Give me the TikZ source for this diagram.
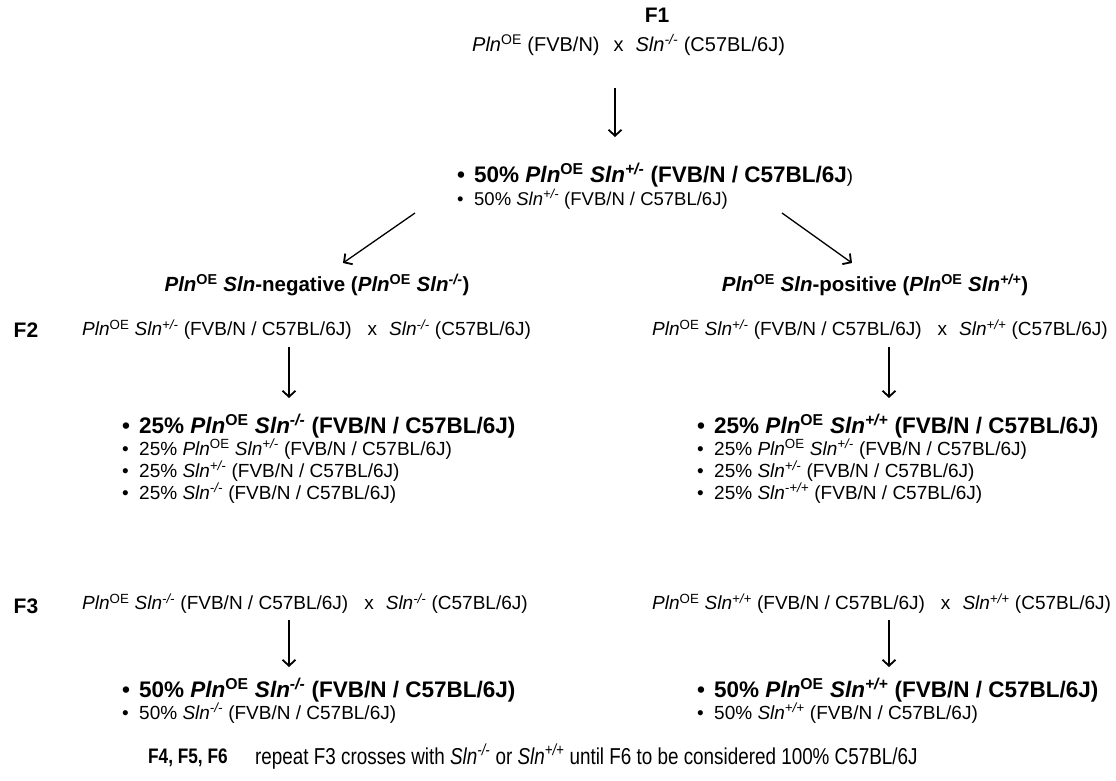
\documentclass[tikz,border=0pt]{standalone}
\usepackage{fontspec}
\setmainfont{Liberation Sans}
\usetikzlibrary{
  arrows.meta, % for the barbed arrow tips
  positioning % for relative placement of the headings
}
\newcommand{\pln}{\textit{Pln}\textsuperscript{OE}}
\newcommand{\sln}[1]{\textit{Sln\textsuperscript{#1}}}
\newcommand{\blt}{\makebox[17pt][l]{\textbullet}}
\newcommand{\topline}[1]{{\bfseries\fontsize{22.5}{22}\selectfont #1}}
\newcommand{\mate}{\hspace{16pt}x\hspace{12pt}}
\tikzset{
  gen/.style={ % generation labels F1, F2, ...
    font=\bfseries\fontsize{21}{22}\selectfont,
    inner sep=0pt,
  },
  cross/.style={ % a mating line
    font=\fontsize{19}{22}\selectfont,
    anchor=west, inner sep=0pt,
  },
  head/.style={ % the two branch headings
    font=\bfseries\fontsize{20.5}{22}\selectfont,
    inner sep=0pt,
  },
  litter/.style={ % offspring lists
    font=\fontsize{19}{22}\selectfont,
    anchor=north west, align=left, inner sep=0pt,
  },
  conn/.style={ % the arrows
    -{Straight Barb[length=6pt,width=13pt,line width=1.8pt]},
    line width=1.3pt,
  },
}

\begin{document}
\begin{tikzpicture}[x=1pt,y=-1pt]
  \useasboundingbox (0,0) rectangle (1116,780);
  % F1
  \node[gen] (f1) at (657,15) {F1};
  \node[cross, font=\fontsize{20}{22}\selectfont] (crossA) at (472,45) {\pln{} (FVB/N)\hspace{14pt}x\hspace{12pt}\sln{-/-} (C57BL/6J)};
  \coordinate (a1s) at (615,88);
  \coordinate (a1e) at (615,137);
  \draw[conn] (a1s) -- (a1e);
  \node[litter, font=\fontsize{18.5}{23}\selectfont] (mixA) at (457,163) {\topline{\blt 50\% \pln{} \sln{+/-} (FVB/N / C57BL/6J}){}\\
    \blt 50\% \sln{+/-} (FVB/N / C57BL/6J)};
  % split into the two lines
  \coordinate (dls) at (415,213);
  \coordinate (dle) at (343,263);
  \coordinate (drs) at (782,213);
  \coordinate (dre) at (852,263);
  \draw[conn] (dls) -- (dle);
  \draw[conn] (drs) -- (dre);
  \node[head] (headNeg) at (317,285) {\textit{Pln}\textsuperscript{OE} \textit{Sln}-negative (\textit{Pln}\textsuperscript{OE} \textit{Sln\textsuperscript{-/-}})};
  \node[head] (headPos) at (875,285) {\textit{Pln}\textsuperscript{OE} \textit{Sln}-positive (\textit{Pln}\textsuperscript{OE} \textit{Sln\textsuperscript{+/+}})};
  % F2
  \node[gen] (f2) at (26,330) {F2};
  \node[cross] (crossNeg2) at (82,330) {\pln{} \sln{+/-} (FVB/N / C57BL/6J)\mate\sln{-/-} (C57BL/6J)};
  \node[cross] (crossPos2) at (652,330) {\pln{} \sln{+/-} (FVB/N / C57BL/6J)\mate\sln{+/+} (C57BL/6J)};
  \coordinate (n2s) at (289,347);
  \coordinate (n2e) at (289,398);
  \coordinate (p2s) at (889,347);
  \coordinate (p2e) at (889,398);
  \draw[conn] (n2s) -- (n2e);
  \draw[conn] (p2s) -- (p2e);
  \node[litter] (litNeg2) at (122,414) {\topline{\blt 25\% \pln{} \sln{-/-} (FVB/N / C57BL/6J)}\\
    \blt 25\% \pln{} \sln{+/-} (FVB/N / C57BL/6J)\\
    \blt 25\% \sln{+/-} (FVB/N / C57BL/6J)\\
    \blt 25\% \sln{-/-} (FVB/N / C57BL/6J)};
  \node[litter] (litPos2) at (697,414) {\topline{\blt 25\% \pln{} \sln{+/+} (FVB/N / C57BL/6J)}\\
    \blt 25\% \pln{} \sln{+/-} (FVB/N / C57BL/6J)\\
    \blt 25\% \sln{+/-} (FVB/N / C57BL/6J)\\
    \blt 25\% \sln{-+/+} (FVB/N / C57BL/6J)};
  % F3
  \node[gen] (f3) at (26,606) {F3};
  \node[cross] (crossNeg3) at (82,604) {\pln{} \sln{-/-} (FVB/N / C57BL/6J)\mate\sln{-/-} (C57BL/6J)};
  \node[cross] (crossPos3) at (652,604) {\pln{} \sln{+/+} (FVB/N / C57BL/6J)\mate\sln{+/+} (C57BL/6J)};
  \coordinate (n3s) at (289,620);
  \coordinate (n3e) at (289,667);
  \coordinate (p3s) at (889,620);
  \coordinate (p3e) at (889,667);
  \draw[conn] (n3s) -- (n3e);
  \draw[conn] (p3s) -- (p3e);
  \node[litter] (litNeg3) at (122,678) {\topline{\blt 50\% \pln{} \sln{-/-} (FVB/N / C57BL/6J)}\\
    \blt 50\% \sln{-/-} (FVB/N / C57BL/6J)};
  \node[litter] (litPos3) at (697,678) {\topline{\blt 50\% \pln{} \sln{+/+} (FVB/N / C57BL/6J)}\\
    \blt 50\% \sln{+/+} (FVB/N / C57BL/6J)};
  % F4 - F6
  \node[gen, anchor=west] (f456) at (148,758) {\scalebox{0.82}[1]{F4, F5, F6}};
  \node[cross, font=\fontsize{23}{24}\selectfont] (rep) at (255,757) {\scalebox{0.82}[1]{repeat F3 crosses with \sln{-/-} or \sln{+/+} until F6 to be considered 100\% C57BL/6J}};
\end{tikzpicture}
\end{document}
